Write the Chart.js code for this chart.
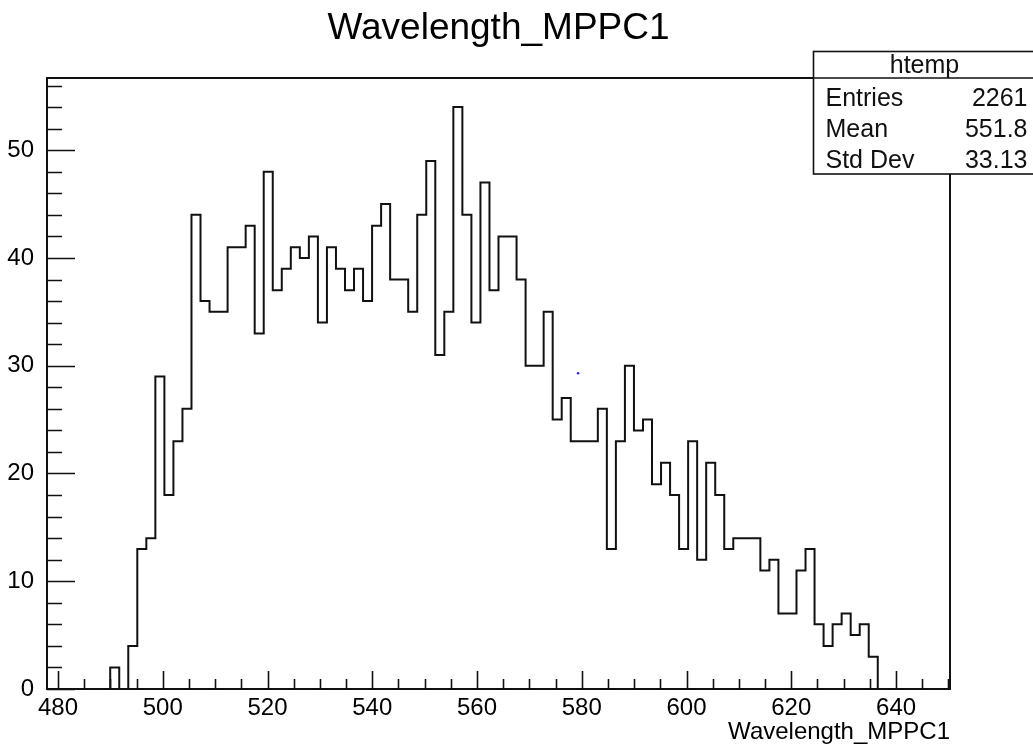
<!DOCTYPE html>
<html>
<head>
<meta charset="utf-8">
<script src="https://cdn.jsdelivr.net/npm/chart.js@4.4.1/dist/chart.umd.min.js"></script>
<style>
  html, body { margin: 0; padding: 0; background: #fff; }
  canvas { display: block; }
</style>
</head>
<body>
<canvas id="c" width="1033" height="747"></canvas>
<script>
// ---- Data (100 bins) ----
const chartTitle = 'Wavelength_MPPC1';
const xAxisTitle = 'Wavelength_MPPC1';
const binLow = 477.9;      // lower edge of first bin
const binWidth = 1.724;    // bin width
const counts = [
  0,0,0,0,0,0,0,2,0,4,
  13,14,29,18,23,26,44,36,35,35,
  41,41,43,33,48,37,39,41,40,42,
  34,41,39,37,39,36,43,45,38,38,
  35,44,49,31,35,54,44,34,47,37,
  42,42,38,30,30,35,25,27,23,23,
  23,26,13,23,30,24,25,19,21,18,
  13,23,12,21,18,13,14,14,14,11,
  12,7,7,11,13,6,4,6,7,5,
  6,3,0,0,0,0,0,0,0,0
];
const xTicks = [480, 500, 520, 540, 560, 580, 600, 620, 640];
const yTicks = [0, 10, 20, 30, 40, 50];
const yMax = 56.7;
const xMinorStep = 5;
const yMinorStep = 2;
const strayPoint = [{ x: 579.3, y: 29.3 }];
const statsTitle = 'htemp';
const statsLabels = ['Entries', 'Mean', 'Std Dev'];
const statsValues = ['2261', '551.8', '33.13'];

// histogram outline points (left edge of each bin + final right edge)
const nBins = counts.length;
const xHigh = binLow + nBins * binWidth;
const histPoints = counts.map((c, i) => ({ x: binLow + i * binWidth, y: c }));
histPoints.push({ x: xHigh, y: counts[nBins - 1] });

const FONT = '"Liberation Sans", Arial, Helvetica, sans-serif';
const INK = '#111';

const rootPlugin = {
  id: 'rootFrame',
  afterDraw(chart) {
    const { ctx, chartArea: a, scales: { x, y } } = chart;
    ctx.save();
    // frame
    ctx.strokeStyle = INK;
    ctx.lineWidth = 2;
    ctx.strokeRect(a.left, a.top, a.right - a.left, a.bottom - a.top);
    // x ticks (inside, pointing up)
    ctx.lineWidth = 1.6;
    ctx.beginPath();
    const firstX = Math.ceil(binLow / xMinorStep) * xMinorStep;
    for (let v = firstX; v < xHigh; v += xMinorStep) {
      const px = Math.round(x.getPixelForValue(v)) + 0.5;
      const len = (v % 20 === 0) ? 18 : 10;
      ctx.moveTo(px, a.bottom);
      ctx.lineTo(px, a.bottom - len);
    }
    // y ticks (inside, pointing right)
    for (let v = 0; v <= yMax; v += yMinorStep) {
      const py = Math.round(y.getPixelForValue(v)) + 0.5;
      const len = (v % 10 === 0) ? 28 : 15;
      ctx.moveTo(a.left, py);
      ctx.lineTo(a.left + len, py);
    }
    ctx.stroke();

    // stats box
    const bx0 = 813.5, bx1 = 1034, by0 = 51.5, by1 = 174, bsep = 78;
    ctx.fillStyle = '#fff';
    ctx.fillRect(bx0, by0, bx1 - bx0, by1 - by0);
    ctx.lineWidth = 1.6;
    ctx.strokeStyle = INK;
    ctx.strokeRect(bx0, by0, bx1 - bx0, by1 - by0);
    ctx.beginPath();
    ctx.moveTo(bx0, bsep); ctx.lineTo(bx1, bsep);
    ctx.stroke();
    ctx.fillStyle = INK;
    ctx.font = '25px ' + FONT;
    ctx.textBaseline = 'alphabetic';
    ctx.textAlign = 'center';
    ctx.fillText(statsTitle, 924.5, 72.5);
    const rowBase = [106, 137, 168];
    statsLabels.forEach((lab, i) => {
      ctx.textAlign = 'left';
      ctx.fillText(lab, 825.5, rowBase[i]);
      ctx.textAlign = 'right';
      ctx.fillText(statsValues[i], 1027.5, rowBase[i]);
    });
    ctx.restore();
  }
};

new Chart(document.getElementById('c'), {
  type: 'line',
  data: {
    datasets: [
      {
        data: histPoints,
        stepped: 'before',
        borderColor: INK,
        borderWidth: 2,
        pointRadius: 0,
        fill: false,
        tension: 0
      },
      {
        data: strayPoint,
        showLine: false,
        pointRadius: 1.3,
        pointBackgroundColor: '#2a2aff',
        pointBorderWidth: 0
      }
    ]
  },
  options: {
    responsive: false,
    animation: false,
    devicePixelRatio: 1,
    layout: { padding: { left: 0, right: 83, top: 0, bottom: 0 } },
    plugins: {
      legend: { display: false },
      tooltip: { enabled: false },
      title: {
        display: true,
        text: chartTitle,
        fullSize: false,
        color: '#000',
        font: { family: FONT, size: 37, weight: 'normal', lineHeight: 1.2 },
        padding: { top: 7, bottom: 26.6 }
      }
    },
    scales: {
      x: {
        type: 'linear',
        min: binLow,
        max: xHigh,
        grid: { display: false },
        border: { display: false },
        afterBuildTicks: (s) => { s.ticks = xTicks.map(v => ({ value: v })); },
        afterFit: (s) => { s.height = 58; },
        ticks: {
          color: '#000',
          padding: -3,
          maxRotation: 0,
          autoSkip: false,
          font: { family: FONT, size: 24 },
          callback: (v) => String(v)
        },
        title: {
          display: true,
          text: xAxisTitle,
          align: 'end',
          color: '#000',
          font: { family: FONT, size: 24 },
          padding: { top: 0, bottom: 0.5 }
        }
      },
      y: {
        type: 'linear',
        min: 0,
        max: yMax,
        grid: { display: false },
        border: { display: false },
        afterBuildTicks: (s) => { s.ticks = yTicks.map(v => ({ value: v })); },
        afterFit: (s) => { s.width = 47; },
        ticks: {
          color: '#000',
          padding: 5,
          autoSkip: false,
          font: { family: FONT, size: 24 },
          callback: (v) => String(v)
        }
      }
    }
  },
  plugins: [rootPlugin]
});
</script>
</body>
</html>
